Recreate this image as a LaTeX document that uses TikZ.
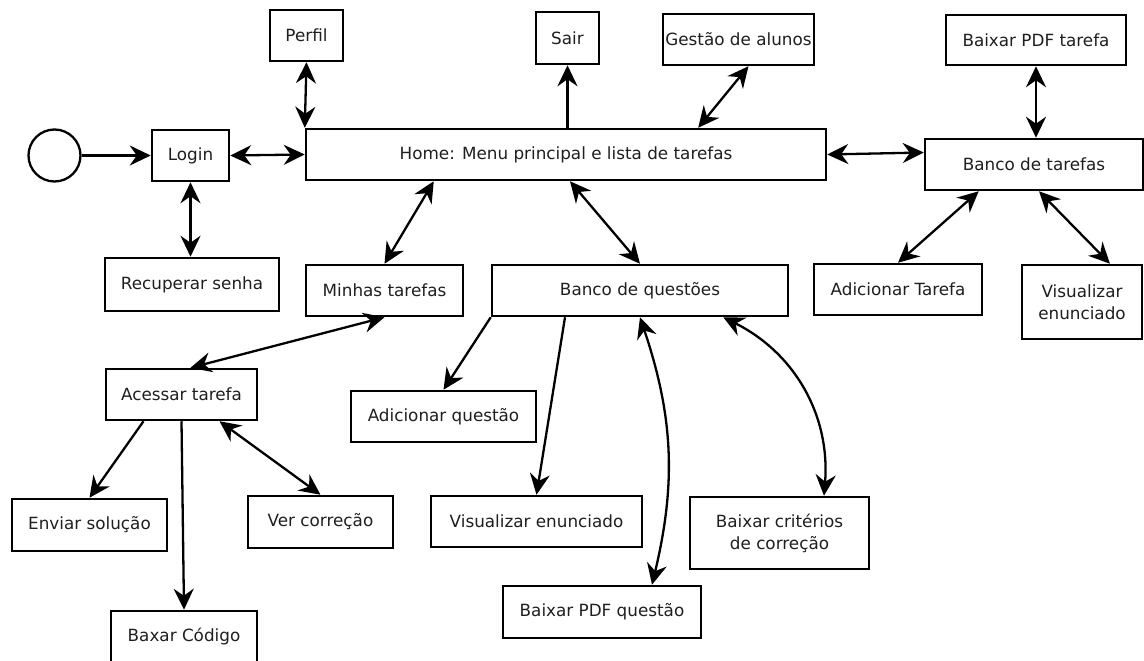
\documentclass[tikz,border=0pt]{standalone}
\usepackage{fontspec}
\setmainfont{DejaVu Sans}
\usetikzlibrary{arrows.meta,calc}
\begin{document}
\begin{tikzpicture}[x=1pt,y=-1pt,
  box/.style={draw=black,line width=2.5pt,fill=white,inner sep=0pt,align=center,
    text=black!88,font=\fontsize{16.8}{21.8}\selectfont},
  conn/.style={line width=2.3pt,draw=black},
  one/.style={conn,-{Stealth[length=21pt,width=20pt,inset=7pt]}},
  two/.style={conn,{Stealth[length=21pt,width=20pt,inset=7pt]}-{Stealth[length=21pt,width=20pt,inset=7pt]}}]
\useasboundingbox (0,0) rectangle (1144,661);
\fill[white] (0,0) rectangle (1144,661);
\node[draw,line width=2.3pt,circle,minimum size=52pt,inner sep=0pt] (start) at (54.5,155.5) {};
\node[box,minimum width=77pt,minimum height=51pt] (login) at (190.5,155.5) {Login};
\node[box,minimum width=73pt,minimum height=51pt] (perfil) at (306.5,35.5) {Perfil};
\node[box,minimum width=520pt,minimum height=51pt] (home) at (566,154.5) {Home: Menu principal e lista de tarefas};
\node[box,minimum width=63pt,minimum height=52pt] (sair) at (567.5,38) {Sair};
\node[box,minimum width=151pt,minimum height=51pt] (gestao) at (738.5,39.5) {Gestão de alunos};
\node[box,minimum width=180pt,minimum height=50pt] (pdftarefa) at (1036,40) {Baixar PDF tarefa};
\node[box,minimum width=218pt,minimum height=51pt] (btarefas) at (1034,164.5) {Banco de tarefas};
\node[box,minimum width=174pt,minimum height=53pt] (recuperar) at (192,284.5) {Recuperar senha};
\node[box,minimum width=157pt,minimum height=51pt] (minhas) at (384.5,290.5) {Minhas tarefas};
\node[box,minimum width=296pt,minimum height=51pt] (bquestoes) at (640,290.5) {Banco de questões};
\node[box,minimum width=168pt,minimum height=51pt] (addtarefa) at (898,289.5) {Adicionar Tarefa};
\node[box,minimum width=120pt,minimum height=74pt] (visenuncT) at (1082,302) {Visualizar\\enunciado};
\node[box,minimum width=151pt,minimum height=51pt] (acessar) at (181.5,394.5) {Acessar tarefa};
\node[box,minimum width=155pt,minimum height=52pt] (enviar) at (89.5,525) {Enviar solução};
\node[box,minimum width=145pt,minimum height=52pt] (ver) at (320.5,522) {Ver correção};
\node[box,minimum width=146pt,minimum height=51pt] (baxar) at (184,636.5) {Baxar Código};
\node[box,minimum width=185pt,minimum height=51pt] (addquestao) at (443.5,416.5) {Adicionar questão};
\node[box,minimum width=211pt,minimum height=51pt] (visenuncQ) at (536.5,521.5) {Visualizar enunciado};
\node[box,minimum width=198pt,minimum height=52pt] (pdfq) at (602,612) {Baixar PDF questão};
\node[box,minimum width=179pt,minimum height=72pt] (criterios) at (779.5,533) {Baixar critérios\\de correção};

\draw[one] (start.east) -- (login.west);
\draw[two] (login.east) -- (home.west);
\draw[two] (perfil.south) -- (home.north west);
\draw[two] (login.south) -- (login.south |- recuperar.north);
\draw[one] (sair.south |- home.north) -- (sair.south);
\draw[two] ($(home.north west)!0.753!(home.north east)$) -- ([xshift=10pt]gestao.south);
\draw[two] (home.east) -- ([yshift=12pt]btarefas.west);
\draw[two] (pdftarefa.south) -- (pdftarefa.south |- btarefas.north);
\draw[two] ([xshift=55pt]btarefas.south west) -- (addtarefa.north);
\draw[two] ([xshift=5pt]btarefas.south) -- ([xshift=28pt]visenuncT.north);
\draw[two] ([xshift=129pt]home.south west) -- (minhas.north);
\draw[two] ([xshift=4pt]home.south) -- (bquestoes.north);
\draw[two] (minhas.south) -- ([xshift=9pt]acessar.north);
\draw[one] ([xshift=-38pt]acessar.south) -- (enviar.north);
\draw[one] (acessar.south) -- (baxar.north);
\draw[two] ([xshift=38pt]acessar.south) -- (ver.north);
\draw[one] (bquestoes.south west) -- (addquestao.north);
\draw[one] ([xshift=-75pt]bquestoes.south) -- (visenuncQ.north);
\draw[two] (bquestoes.south) to[bend left=16] ([xshift=50pt]pdfq.north);
\draw[two] ([xshift=-66pt]bquestoes.south east) to[bend left=34] ([xshift=44.5pt]criterios.north);
\end{tikzpicture}
\end{document}
